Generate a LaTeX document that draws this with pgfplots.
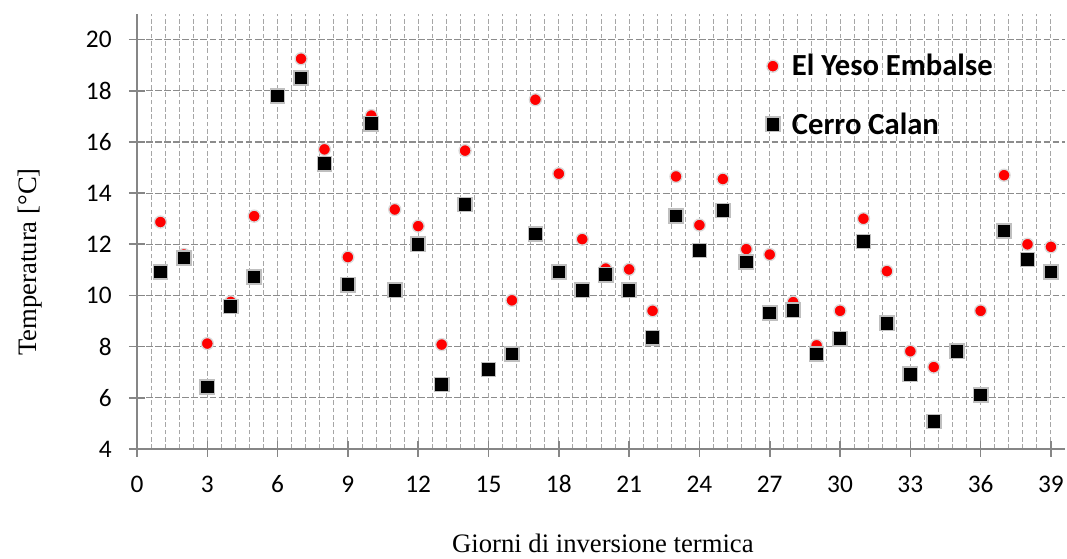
\documentclass[border=0pt]{standalone}
\usepackage{pgfplots}
\pgfplotsset{compat=1.18}
\usepackage{fontspec}
\setmainfont{Liberation Serif}
\newfontfamily\calibri{Carlito}

\definecolor{axisgray}{HTML}{868686}
\definecolor{gridmajor}{HTML}{8C8C8C}
\definecolor{gridminor}{HTML}{A6A6A6}
\definecolor{ringred}{HTML}{D9D9D9}
\definecolor{ringblk}{HTML}{BFBFBF}

\begin{document}
\begin{tikzpicture}
\useasboundingbox (-102.75pt,-82.5pt) rectangle (697.5pt,336.75pt);
\begin{axis}[
  scale only axis,
  width=696pt, height=326.25pt,
  xmin=0, xmax=39.6, ymin=4, ymax=21,
  xtick={0,3,...,39}, ytick={4,6,...,20},
  minor x tick num=4,
  axis lines=left,
  axis line style={-, axisgray, line width=1.2pt},
  tick style={axisgray, line width=1.2pt},
  tick align=center,
  major tick length=12pt,
  minor tick length=0pt,
  xmajorgrids, xminorgrids, ymajorgrids,
  x grid style={gridminor, line width=0.7pt, dash pattern=on 3.5pt off 2pt},
  minor x grid style={gridminor, line width=0.7pt, dash pattern=on 3.5pt off 2pt},
  y grid style={gridmajor, line width=0.9pt, dash pattern=on 5pt off 1.8pt},
  /pgf/number format/assume math mode=true,
  ticklabel style={font=\calibri\fontsize{19}{23}\selectfont, black},
  xticklabel style={anchor=base, yshift=-26.5pt},
  yticklabel style={xshift=-9.5pt},
  xlabel={Giorni di inversione termica},
  ylabel={Temperatura [°C]},
  label style={font=\fontsize{20}{24}\selectfont},
  xlabel style={at={(rel axis cs:0.502,0)}, anchor=base, inner sep=0pt, yshift=-78pt},
  ylabel style={at={(rel axis cs:0,0.43)}, anchor=center, yshift=80.25pt},
  legend style={draw=none, fill=none, at={(rel axis cs:0.673,0.92)}, anchor=north west,
    font=\calibri\bfseries\fontsize{23}{28}\selectfont, row sep=22pt,
    legend cell align=left},
  legend image code/.code={\draw[#1] plot coordinates {(0pt,0pt)};},
]
% El Yeso Embalse
\addplot[only marks, mark=*, mark size=4.5pt, mark options={fill=red, draw=ringred, line width=1pt}]
coordinates {
(1,12.87) (2,11.6) (3,8.12) (4,9.75) (5,13.1) (6,17.79) (7,19.25) (8,15.71) (9,11.5) (10,17.03)
(11,13.36) (12,12.71) (13,8.08) (14,15.66) (15,7.11) (16,9.81) (17,17.65) (18,14.76) (19,12.2) (20,11.05)
(21,11.02) (22,9.4) (23,14.65) (24,12.75) (25,14.55) (26,11.81) (27,11.6) (28,9.74) (29,8.05) (30,9.4)
(31,13.0) (32,10.95) (33,7.82) (34,7.2) (35,7.82) (36,9.4) (37,14.7) (38,12.0) (39,11.9)
};
\addlegendentry{\hspace*{7pt}El Yeso Embalse}
% Cerro Calan
\addplot[only marks, mark=square*, mark size=5.3pt, mark options={fill=black, draw=ringblk, line width=1.2pt}]
coordinates {
(1,10.91) (2,11.46) (3,6.42) (4,9.57) (5,10.72) (6,17.79) (7,18.5) (8,15.15) (9,10.42) (10,16.71)
(11,10.2) (12,12.0) (13,6.52) (14,13.56) (15,7.11) (16,7.71) (17,12.41) (18,10.91) (19,10.2) (20,10.81)
(21,10.2) (22,8.35) (23,13.1) (24,11.76) (25,13.32) (26,11.3) (27,9.31) (28,9.42) (29,7.71) (30,8.31)
(31,12.11) (32,8.91) (33,6.92) (34,5.07) (35,7.82) (36,6.11) (37,12.52) (38,11.41) (39,10.91)
};
\addlegendentry{\hspace*{7pt}Cerro Calan}
\end{axis}
\end{tikzpicture}
\end{document}
